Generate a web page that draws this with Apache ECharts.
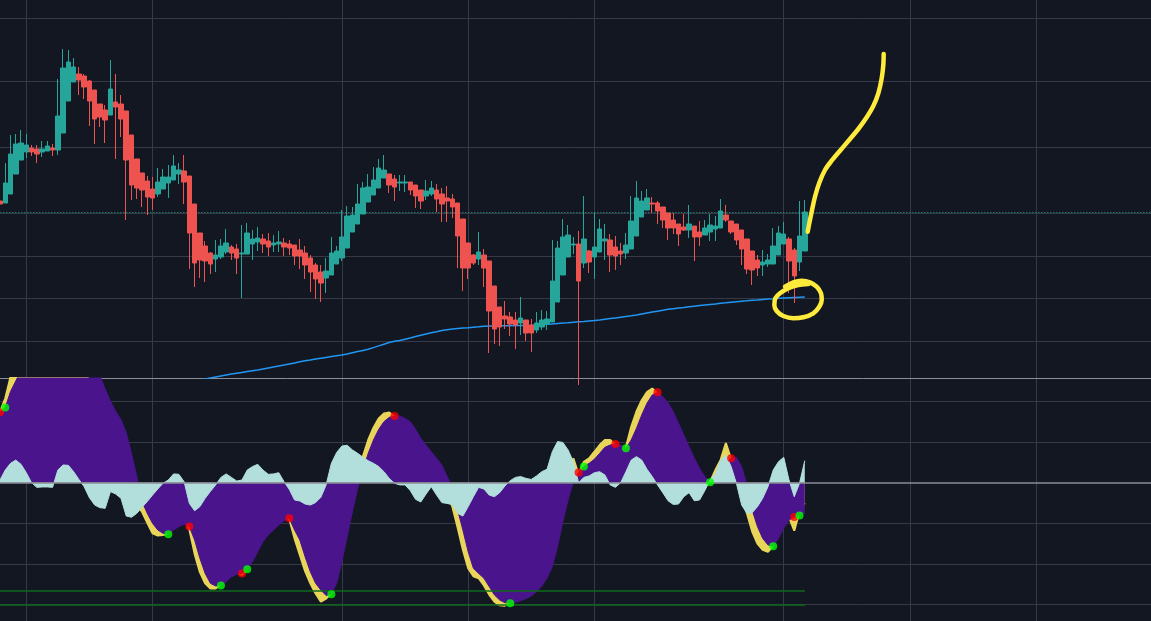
<!DOCTYPE html>
<html>
<head>
<meta charset="utf-8">
<title>Chart + WaveTrend</title>
<style>
  html, body { margin: 0; padding: 0; background: #131722; }
  #main { width: 1151px; height: 621px; }
</style>
</head>
<body>
<div id="main"></div>
<script src="https://cdn.jsdelivr.net/npm/echarts/dist/echarts.min.js"></script>
<script>
// ---- candles (one entry per bar) ----
var open = [177,175,184,204,218,226,230,229,226,227, 230,228,245,277,296,304,302,297,288,274,
  268,263,276,274,267,243,219,205,197,189, 184,189,195,198,204,207,202,174,145,132,
  125,119,121,126,131,129,124,124,134,136, 139,137,133,134,135,134,133,128,125,120,
  113,106,100,103,114,120,130,146,154,164, 176,183,190,200,204,199,195,195,196,193,
  188,182,184,188,184,180,179,175,159,135, 123,119,123,117,92,71,62,61,58,55,
  58,53,48,51,54,56,76,103,121,133, 134,115,127,121,126,137,138,131,127,125,
  129,142,161,168,175,175,171,165,158,154, 151,148,152,146,143,146,149,150,163,157,
  154,148,139,127,118,113,114,114,123,134, 139,128,116,127];
var close = [174,195,224,234,235,233,226,224,229,232, 228,262,310,316,311,298,291,277,259,261,
  258,289,271,259,218,193,190,188,181,180, 196,201,201,212,208,196,145,115,118,117,
  114,123,132,135,125,120,125,145,139,140, 134,131,135,136,131,130,122,122,113,106,
  99,95,107,125,127,141,162,163,174,190, 191,198,210,208,193,191,196,196,188,182,
  177,187,190,179,174,177,171,142,110,110, 115,126,110,67,49,51,59,54,53,60,
  45,45,55,58,59,97,130,141,143,134, 97,139,116,131,149,139,123,122,124,133,
  157,180,177,180,174,167,158,150,150,144, 148,154,141,141,150,153,152,167,158,146,
  138,129,109,108,110,116,118,132,145,144, 117,102,142,166];
var low = [140,175,184,204,218,220,222,215,221,227, 222,223,245,277,296,283,279,252,234,251,
  235,263,219,241,158,178,179,171,163,168, 181,189,180,198,194,174,109,91,100,96,
  104,106,119,124,118,104,80,124,118,127, 125,122,126,126,122,123,113,109,99,86,
  79,76,85,103,114,117,130,146,154,164, 176,183,190,200,185,177,187,186,183,170,
  169,178,182,166,156,156,160,110,87,99, 113,113,91,25,34,32,49,42,29,43,
  37,26,45,48,48,56,76,103,121,124, -7,110,105,99,126,118,106,108,113,119,
  129,142,161,168,165,154,150,138,144,132, 147,140,117,132,143,137,137,150,156,144,
  133,113,104,93,102,102,111,114,123,134, 85,75,107,127];
var high = [193,215,243,244,248,244,233,233,237,237, 234,299,329,328,320,311,304,298,288,274,
  273,318,304,283,267,243,219,205,202,201, 210,209,213,223,215,223,202,174,145,137,
  126,138,139,149,133,134,153,155,148,151, 144,145,143,147,140,138,133,139,132,123,
  115,113,120,141,132,168,172,171,194,196, 204,211,219,223,204,203,203,203,196,193,
  188,198,197,194,190,192,184,175,159,135, 124,146,129,117,92,71,77,66,66,81,
  58,59,66,68,67,138,137,159,153,141, 147,182,128,166,159,154,144,142,135,145,
  182,197,187,189,181,177,171,165,165,154, 164,173,152,157,158,164,162,179,173,157,
  154,148,139,127,123,128,124,150,152,156, 141,130,177,178];

// blue moving average, first visible value starts at bar maStart
var maStart = 36;
var ma = [-4,-3,-2,-1,0,1,2,3,4,4.8, 5.6,6.4,7.2,8,9,10,11,12,13,14,
  15,16.3,17.2,18,19,19.8,20.6,21.4,22.2,23, 24,25.2,26.4,27.6,28.7,30.4,32.1,33.8,35.5,36.8,
  37.5,38.8,40.1,41.4,42.7,44,45.3,46.3,47.5,48.3, 49,49.5,50,50.3,50.8,51.2,51.7,52,52.1,52.2,
  52.3,52.3,52.4,52.4,52.5,52.5,52.9,53.3,53.7,54.1, 54.5,54.9,55.3,55.8,56.2,56.6,57.1,57.5,58,58.7,
  59.4,60.1,60.8,61.5,62.2,63,64,65,65.9,66.8, 67.7,68.7,69.3,69.9,70.5,71.2,71.8,72.4,73,73.6,
  74.1,74.7,75.2,75.8,76.3,76.8,77.2,77.7,78.1,78.6, 79,79.3,79.7,80,80.3,80.6,80.8,81];

// ---- oscillator pane ----
var wt1 = [34.9,41.5,52,60,66,70,72,73,72,71, 70,69,68,66,63,59,55,50,44,38,
  31,24,17,10,3,-4,-11,-14.3,-19.7,-24.9, -26,-25.7,-25,-20,-17,-17,-23,-35,-44,-49.5,
  -52,-52,-50,-47,-45,-44,-45.5,-42,-35,-29, -24,-20.5,-18.5,-17,-16.5,-18,-27.5,-35.5,-43.5,-49.5,
  -54.5,-58.5,-57,-54.4,-42,-30,-18,-7,3,13, 21,27,31.5,34,34.5,32.5,30,27,24,20,
  16,12,8,4,0,-5,-11.8,-22,-33,-42, -46,-47,-50.5,-55,-58.5,-60.3,-60.5,-59,-56,-53,
  -50,-47,-43,-38,-32,-25,-16,-7,3,12, 4,10.3,12,15.2,18.5,21,21,18.5,15,17.5,
  27.5,35,40.5,44.5,46.3,44,40,35,29,22, 15,9,4,0,-2,0.5,6.2,11.2,19.5,11.5,
  3,-6,-15,-24,-30,-33,-34,-31,-24,-19, -17,-23.6,-14,-10];
var wt2 = [34.6,37,44.8,50,55,60,64,67,69,70, 71,72,72,72,71,69,66,62,57.5,52.5,
  46,40,35,31,24.5,14.5,3,-9.3,-15.1,-20, -23.3,-24.9,-25.4,-23.3,-21.6,-20.5,-21.6,-28.2,-37.2,-44.6,
  -49.5,-50.8,-50.5,-48.7,-46.3,-45,-44.6,-42.6,-38.9,-33.9, -29,-25.7,-23.3,-20.8,-18.7,-17.5,-23.3,-28.2,-36.4,-43.8,
  -49.5,-52.8,-55.5,-54.8,-49.5,-38.8,-26.6,-14.3,-2.8,6.2, 14.4,21,26.2,30,32.1,32.8,32.8,31.6,30,26.2,
  21.8,18.5,15.2,12,8.7,3,-2,-13.4,-23.3,-33.9, -42.1,-44.6,-47,-51.1,-55.2,-57.7,-59,-59.3,-58.8,-58,
  -57,-55.7,-53.6,-50.8,-47,-41.3,-31.5,-19.2,-8.5,0.5, 5,8,9.5,11.5,14.4,17.4,18.5,19,18.5,16.9,
  21,26.7,33.3,39,43.1,44.4,42.3,39.3,34.9,29.2, 23.4,17.7,12,7,3,0.2,3.3,6.2,9.5,12,
  12.5,7.9,-1,-13.4,-21.6,-27.4,-30.6,-31.3,-27.4,-22.4, -18.4,-16.9,-16.1,-15];
var spread = [1.3,6.2,9.5,11.1,9,4.9,0,-2.3,-2.1,-2.1, -2.3,6.2,8.7,8.5,5.4,1.6,-2,-7.4,-11,-12.3,
  -12.6,-4.4,-5.6,-7.7,-16.4,-17,-15.1,-12.1,-9.3,-6.1, -3.1,-0.3,1.3,4.3,4.1,0.5,-10.2,-13.8,-11.8,-7.7,
  -4.3,-1.1,2.6,4.3,2.6,0.8,1.3,6.2,7.9,9, 6.2,4.1,4.3,4.9,0.5,-3.3,-8.5,-9,-10.5,-11,
  -9.8,-7.2,-1.1,9.5,14.8,18,18.4,16.1,14.4,12.5, 10.8,9.5,7.9,5.4,2.1,-0.3,-1.1,-1.1,-3.9,-8.2,
  -9.5,-5.6,-2,-6.1,-9.8,-10.2,-10.8,-15.1,-16.4,-11.8, -6.9,-2.3,-3.1,-6.1,-6.9,-4.9,-1.6,1,2.6,3,
  2.1,1.6,3.3,5.4,6.6,15.2,20.2,19.8,16.1,10.3, 0,2.6,3.3,4.9,5.4,3.8,-1.1,-2.3,0,5.4,
  11.1,12.8,11.1,6.6,3,-1.1,-4.9,-8.9,-10.7,-10.5, -6.9,-4.9,-8.9,-8.5,-3.9,1.3,4.3,11.1,13.6,7.9,
  -0.3,-11,-15.1,-14.8,-11.8,-7.7,-2,6.2,10.3,12.5, 1.3,-6.9,-0.3,10.8];
var redDots = [0,36,46,55,75,110,117,125,139,151];
var greenDots = [1,32,42,47,63,97,111,119,135,147,152];
var obLevels = [-53, -60];

// ---- grid / scale positions ----
var vGrid = [5,29,65,89,113,149,173,197];
var priceGrid = [359.7,296.7,230.7,164.3,121.7,79.7,36.7];
var oscGrid = [40,20,-20,-40,-60];

// ---- freehand yellow drawing, [bar, price] ----
var scribbleCurve = [[153.56,146.3],[153.86,154.7],[154.31,166.3],[154.94,181.3],[155.76,195.3],
  [156.84,208],[158.11,217.3],[159.7,227.3],[161.27,237],[163.18,249],[164.77,260.7],
  [166.03,272],[166.98,284.7],[167.62,299.7],[167.93,313],[168.0,324]];
var scribbleLoop = [[149.24,91.3],[150.82,95.7],[152.41,97.3],[153.99,95.7],[155.26,91.3],
  [156.08,84.7],[156.22,78],[155.76,71.3],[154.62,64.7],[152.72,60.7],[150.82,59.7],
  [148.92,62],[147.66,67],[147.21,73],[147.4,79.7],[148.29,84.7],[149.87,89.7],
  [151.77,93],[153.67,94]];

var STEP = 5.26, NT = 220;
var cats = [];
for (var i = 0; i < NT; i++) cats.push(String(i));
var candles = open.map(function (o, i) { return [o, close[i], low[i], high[i]]; });
var maData = ma.map(function (v, i) { return [maStart + i, v]; });
var lastClose = close[close.length - 1];
var lastBar = open.length - 1;

var GRID = '#363a46';
function gl(extra) {
  return Object.assign({ lineStyle: { color: GRID, width: 1, type: 'solid' } }, extra);
}
var penStyle = { color: '#ffeb3b', width: 4.5, cap: 'round', join: 'round' };

var myChart = echarts.init(document.getElementById('main'));
var option = {
  backgroundColor: '#131722',
  animation: false,
  grid: [
    { left: -STEP / 2, top: 0, width: STEP * NT, height: 378, outerBoundsMode: 'none' },
    { left: -STEP / 2, top: 378, width: STEP * NT, height: 243, outerBoundsMode: 'none' }
  ],
  xAxis: [
    { type: 'category', gridIndex: 0, data: cats, boundaryGap: true,
      axisLine: { show: true, onZero: false, lineStyle: { color: '#8b8e97', width: 1 } },
      axisTick: { show: false }, axisLabel: { show: false }, splitLine: { show: false } },
    { type: 'category', gridIndex: 1, data: cats, boundaryGap: true, show: false },
    { type: 'value', gridIndex: 0, min: -0.5, max: NT - 0.5, show: false }
  ],
  yAxis: [
    { type: 'value', gridIndex: 0, min: 0, max: 378, show: false, splitLine: { show: false } },
    { type: 'value', gridIndex: 1, min: -68, max: 51.45, show: false, splitLine: { show: false } }
  ],
  series: [
    { name: 'MA', type: 'line', xAxisIndex: 0, yAxisIndex: 0, data: maData, z: 1,
      symbol: 'none', lineStyle: { color: '#2196f3', width: 1.5 },
      markLine: { silent: true, symbol: 'none', z: 0, label: { show: false },
        data: vGrid.map(function (i) { return gl({ xAxis: i }); })
          .concat(priceGrid.map(function (v) { return gl({ yAxis: v }); }))
          .concat([{ yAxis: lastClose, lineStyle: { color: '#26a69a', width: 1, type: [1, 2] } }]) } },
    { name: 'price', type: 'candlestick', xAxisIndex: 0, yAxisIndex: 0, data: candles, z: 2,
      barWidth: 5,
      itemStyle: { color: '#26a69a', color0: '#ef5350', borderColor: '#26a69a', borderColor0: '#ef5350', borderWidth: 1 } },
    { name: 'scribble1', type: 'line', xAxisIndex: 2, yAxisIndex: 0, data: scribbleCurve, z: 10,
      smooth: 0.3, symbol: 'none', lineStyle: penStyle },
    { name: 'scribble2', type: 'line', xAxisIndex: 2, yAxisIndex: 0, data: scribbleLoop, z: 10,
      smooth: 0.3, symbol: 'none', lineStyle: penStyle },

    { name: 'wt1', type: 'line', xAxisIndex: 1, yAxisIndex: 1, data: wt1, z: 1, symbol: 'none',
      lineStyle: { color: '#e8d55a', width: 2 }, areaStyle: { color: '#e8d55a', opacity: 1 },
      markLine: { silent: true, symbol: 'none', z: 0, label: { show: false },
        data: vGrid.map(function (i) { return gl({ xAxis: i }); })
          .concat(oscGrid.map(function (v) { return gl({ yAxis: v }); })) } },
    { name: 'wt2', type: 'line', xAxisIndex: 1, yAxisIndex: 1, data: wt2, z: 2, symbol: 'none',
      lineStyle: { color: '#4a148c', width: 1 }, areaStyle: { color: '#4a148c', opacity: 1 } },
    { name: 'spread', type: 'line', xAxisIndex: 1, yAxisIndex: 1, data: spread, z: 3, symbol: 'none',
      lineStyle: { color: '#b2dfdb', width: 1 }, areaStyle: { color: '#b2dfdb', opacity: 1 },
      markLine: { silent: true, symbol: 'none', z: 4, label: { show: false },
        data: [{ yAxis: 0, lineStyle: { color: '#8b8e97', width: 1.5, type: 'solid' } }]
          .concat(obLevels.map(function (v) {
            return [{ coord: [0, v], lineStyle: { color: '#0f6a1c', width: 1.5, type: 'solid' } },
                    { coord: [lastBar, v] }];
          })) } },
    { name: 'crossDown', type: 'scatter', xAxisIndex: 1, yAxisIndex: 1, z: 5, symbolSize: 8,
      itemStyle: { color: '#ff0000' },
      data: redDots.map(function (i) { return [i, wt2[i]]; }) },
    { name: 'crossUp', type: 'scatter', xAxisIndex: 1, yAxisIndex: 1, z: 5, symbolSize: 8,
      itemStyle: { color: '#00ff00' },
      data: greenDots.map(function (i) { return [i, wt2[i]]; }) }
  ]
};
myChart.setOption(option);
</script>
</body>
</html>
